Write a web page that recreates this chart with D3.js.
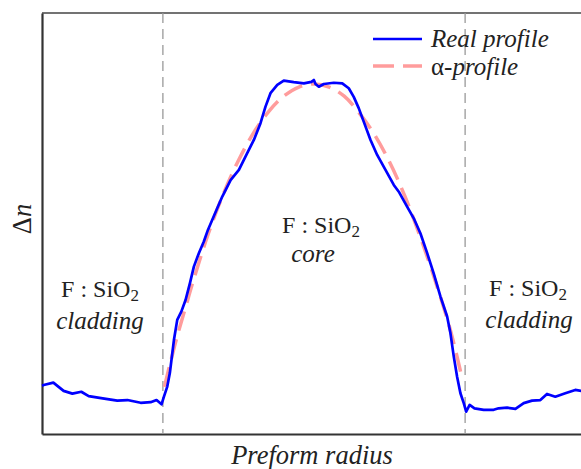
<!DOCTYPE html>
<html>
<head>
<meta charset="utf-8">
<script src="https://cdn.jsdelivr.net/npm/d3@7"></script>
<style>
	body { margin: 0; background: #fff; }
	text { font-family: "Liberation Serif", "Times New Roman", Times, "DejaVu Serif", serif; }
</style>
</head>
<body>
<div id="chart"></div>
<script>
// Refractive index profile of the preform

// Real profile: radius (core radius = 1) and index difference (alpha peak = 1)
var realRadius = [-1.80, -1.789, -1.725, -1.657, -1.599, -1.540, -1.491, -1.409, -1.302, -1.235, -1.147, -1.081, -1.042, -1.009,
	-0.993, -0.971, -0.954, -0.927, -0.905, -0.878, -0.850, -0.821, -0.795, -0.762, -0.729, -0.702, -0.673, -0.607, -0.552,
	-0.497, -0.442, -0.398, -0.354, -0.321, -0.288, -0.243, -0.200, -0.134, -0.067, -0.017, -0.001, 0.010, 0.032, 0.065,
	0.131, 0.187, 0.230, 0.263, 0.296, 0.329, 0.374, 0.418, 0.473, 0.528, 0.561, 0.616, 0.660, 0.704, 0.749, 0.792, 0.837,
	0.881, 0.903, 0.925, 0.947, 0.969, 0.991, 1.007, 1.030, 1.062, 1.123, 1.189, 1.222, 1.278, 1.333, 1.388, 1.443, 1.498,
	1.542, 1.597, 1.663, 1.729, 1.80];
var realIndex = [0.014, 0.016, 0.024, -0.003, -0.012, -0.006, -0.020, -0.027, -0.035, -0.033, -0.042, -0.040, -0.033, -0.047,
	-0.022, 0.011, 0.055, 0.163, 0.229, 0.256, 0.294, 0.349, 0.403, 0.447, 0.485, 0.523, 0.556, 0.632, 0.686,
	0.719, 0.774, 0.817, 0.872, 0.926, 0.970, 0.997, 1.011, 1.006, 1.002, 1.007, 1.013, 1.000, 0.991, 1.000,
	1.004, 1.002, 0.986, 0.958, 0.921, 0.877, 0.817, 0.768, 0.719, 0.670, 0.648, 0.599, 0.561, 0.512, 0.447, 0.381, 0.305,
	0.240, 0.185, 0.109, 0.043, -0.011, -0.043, -0.071, -0.049, -0.060, -0.065, -0.065, -0.060, -0.058, -0.062, -0.043, -0.035, -0.033,
	-0.013, -0.022, -0.011, 0.000, -0.006];

// Alpha profile
var alphaRadius = [-0.99, -0.95, -0.90, -0.85, -0.80, -0.70, -0.60, -0.50, -0.40, -0.30, -0.20, -0.10, 0.00,
	0.10, 0.20, 0.30, 0.40, 0.50, 0.60, 0.70, 0.80, 0.90, 0.97];
var alphaIndex = [0.01, 0.09, 0.185, 0.27, 0.355, 0.51, 0.64, 0.75, 0.84, 0.91, 0.96, 0.99, 1.00,
	0.99, 0.96, 0.905, 0.835, 0.745, 0.635, 0.505, 0.36, 0.20, 0.06];

// Core / cladding boundaries
var coreEdges = [-1, 1];

var seriesNames = ['Real profile', '-profile'];

var width = 581,
	height = 469,
	margin = {top: 13, right: -5, bottom: 35, left: 42};

var svg = d3.select('#chart').append('svg')
	.attr('width', width)
	.attr('height', height)
	.style('display', 'block');

var x = d3.scaleLinear()
	.domain([-1.8, 1.8])
	.range([margin.left, width - margin.right]);

var y = d3.scaleLinear()
	.domain([-0.144, 1.232])
	.range([height - margin.bottom, margin.top]);

// Frame: top border, then the two axes without ticks
svg.append('line')
	.attr('x1', x(-1.8)).attr('x2', width)
	.attr('y1', y(1.232)).attr('y2', y(1.232))
	.attr('stroke', '#444')
	.attr('stroke-width', 1.5);

svg.append('g')
	.attr('transform', 'translate(0,' + y(-0.144) + ')')
	.call(d3.axisBottom(x).ticks(0).tickSize(0).tickSizeOuter(0))
	.select('.domain')
	.attr('stroke', '#333')
	.attr('stroke-width', 2.2);

svg.append('g')
	.attr('transform', 'translate(' + x(-1.8) + ',0)')
	.call(d3.axisLeft(y).ticks(0).tickSize(0).tickSizeOuter(0))
	.select('.domain')
	.attr('stroke', '#333')
	.attr('stroke-width', 2.2);

// Dashed boundaries of the core
svg.selectAll('.edge')
	.data(coreEdges)
	.enter().append('line')
	.attr('class', 'edge')
	.attr('x1', function(d) { return x(d); })
	.attr('x2', function(d) { return x(d); })
	.attr('y1', y(1.232))
	.attr('y2', y(-0.144))
	.attr('stroke', '#999')
	.attr('stroke-width', 1.3)
	.attr('stroke-dasharray', '10,6');

// Curves
var line = d3.line()
	.x(function(d) { return x(d[0]); })
	.y(function(d) { return y(d[1]); });

var alphaData = d3.zip(alphaRadius, alphaIndex);
var realData = d3.zip(realRadius, realIndex);

svg.append('path')
	.attr('d', line.curve(d3.curveCatmullRom)(alphaData))
	.attr('fill', 'none')
	.attr('stroke', '#ff9c9c')
	.attr('stroke-width', 3.5)
	.attr('stroke-dasharray', '20,9');

svg.append('path')
	.attr('d', line.curve(d3.curveLinear)(realData))
	.attr('fill', 'none')
	.attr('stroke', '#0000ff')
	.attr('stroke-width', 2.7)
	.attr('stroke-linejoin', 'round');

// Legend
var legend = svg.append('g').attr('transform', 'translate(373,39)');

legend.append('line')
	.attr('x1', 0).attr('x2', 49)
	.attr('y1', 0).attr('y2', 0)
	.attr('stroke', '#0000ff')
	.attr('stroke-width', 2.7);

legend.append('line')
	.attr('x1', 0).attr('x2', 49)
	.attr('y1', 27).attr('y2', 27)
	.attr('stroke', '#ff9c9c')
	.attr('stroke-width', 3.5)
	.attr('stroke-dasharray', '21,9');

legend.append('text')
	.attr('x', 58).attr('y', 8)
	.style('font-size', '25px')
	.style('font-style', 'italic')
	.attr('fill', '#222')
	.text(seriesNames[0]);

var alphaLabel = legend.append('text')
	.attr('x', 58).attr('y', 36)
	.style('font-size', '25px')
	.attr('fill', '#222');
alphaLabel.append('tspan').text('\u03b1');
alphaLabel.append('tspan').style('font-style', 'italic').text(seriesNames[1]);

// Region labels
function material(g, cx, cy) {
	var t = g.append('text')
		.attr('x', cx).attr('y', cy)
		.attr('text-anchor', 'middle')
		.style('font-size', '24px')
		.attr('fill', '#222');
	t.append('tspan').text('F : SiO');
	t.append('tspan').attr('dy', 4).style('font-size', '17px').text('2');
}

function italicLabel(g, cx, cy, label) {
	g.append('text')
		.attr('x', cx).attr('y', cy)
		.attr('text-anchor', 'middle')
		.style('font-size', '25px')
		.style('font-style', 'italic')
		.attr('fill', '#222')
		.text(label);
}

material(svg, 321, 233);
italicLabel(svg, 313, 262, 'core');
material(svg, 100, 297);
italicLabel(svg, 100, 329, 'cladding');
material(svg, 528, 296);
italicLabel(svg, 529, 328, 'cladding');

// Axis titles
svg.append('text')
	.attr('x', 312).attr('y', 464)
	.attr('text-anchor', 'middle')
	.style('font-size', '26.5px')
	.style('font-style', 'italic')
	.attr('fill', '#222')
	.text('Preform radius');

var yTitle = svg.append('text')
	.attr('transform', 'translate(31,219) rotate(-90)')
	.attr('text-anchor', 'middle')
	.style('font-size', '26.5px')
	.attr('fill', '#222');
yTitle.append('tspan').text('\u0394');
yTitle.append('tspan').style('font-style', 'italic').text('n');
</script>
</body>
</html>
